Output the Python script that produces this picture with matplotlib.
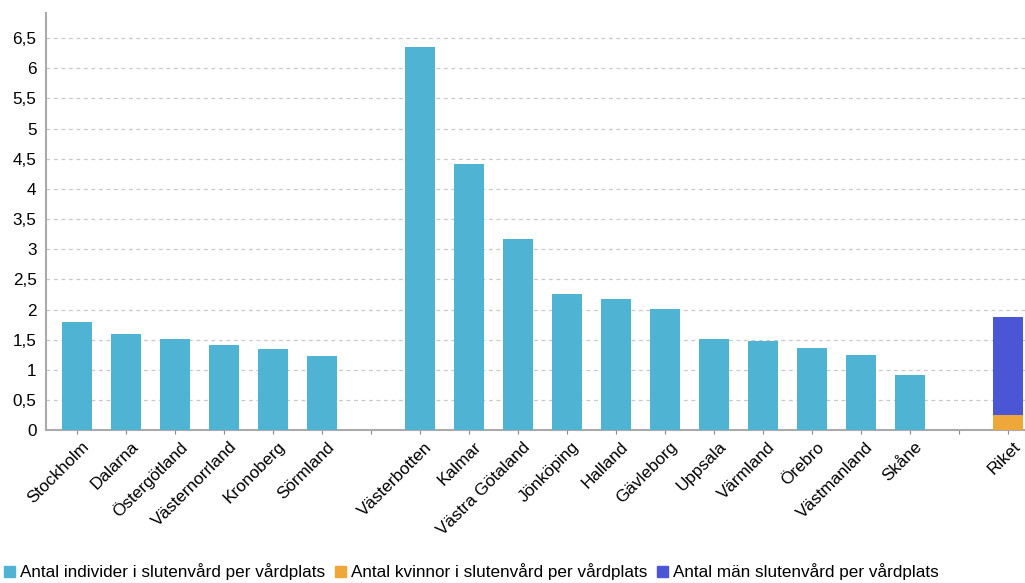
import numpy as np
import matplotlib.pyplot as plt
import matplotlib.transforms as mtransforms
from matplotlib.patches import Patch
from matplotlib.ticker import FuncFormatter

plt.rcParams['font.family'] = ['Liberation Sans', 'DejaVu Sans']

# regions, empty strings are spacer slots between the groups
labels = ['Stockholm', 'Dalarna', 'Östergötland', 'Västernorrland', 'Kronoberg', 'Sörmland', '',
          'Västerbotten', 'Kalmar', 'Västra Götaland', 'Jönköping', 'Halland', 'Gävleborg',
          'Uppsala', 'Värmland', 'Örebro', 'Västmanland', 'Skåne', '', 'Riket']
individer = [1.79, 1.59, 1.51, 1.41, 1.34, 1.23, 0,
             6.36, 4.41, 3.17, 2.26, 2.17, 2.01,
             1.51, 1.48, 1.36, 1.24, 0.91, 0, 0]
kvinnor = [0] * 19 + [0.25]
man = [0] * 19 + [1.62]

c_ind = '#4fb3d3'
c_kv = '#efa73a'
c_man = '#4b56d5'

fig = plt.figure(figsize=(10.25, 5.83), dpi=100)
ax = fig.add_axes([0.045, 0.262, 0.955, 0.716])

x = np.arange(len(labels))
w = 0.61
ax.bar(x, individer, w, color=c_ind, zorder=3)
ax.bar(x, kvinnor, w, color=c_kv, zorder=3)
ax.bar(x, man, w, bottom=kvinnor, color=c_man, zorder=3)

ax.set_xlim(-0.63, 19.35)
ax.set_ylim(0, 6.92)
ax.set_yticks(np.arange(0, 6.51, 0.5))
ax.yaxis.set_major_formatter(FuncFormatter(lambda v, p: ('%g' % v).replace('.', ',')))
ax.grid(axis='y', color='#c8c8c8', linestyle=(0, (3, 3)), linewidth=0.9, zorder=0)

ax.set_xticks(x)
ax.set_xticklabels(labels, rotation=45, ha='right', va='center', rotation_mode='anchor')
ax.tick_params(axis='x', length=3, color='#888888', labelsize=12.3, pad=8)
ax.tick_params(axis='y', length=0, labelsize=12.3, pad=7)
# nudge the slanted labels so they end just right of their tick
shift = mtransforms.ScaledTranslation(10 / 100, 1 / 100, fig.dpi_scale_trans)
for t in ax.get_xticklabels():
    t.set_transform(t.get_transform() + shift)

for s in ['top', 'right']:
    ax.spines[s].set_visible(False)
for s in ['left', 'bottom']:
    ax.spines[s].set_color('#aaaaaa')
    ax.spines[s].set_linewidth(1.5)

handles = [Patch(color=c_ind, label='Antal individer i slutenvård per vårdplats'),
           Patch(color=c_kv, label='Antal kvinnor i slutenvård per vårdplats'),
           Patch(color=c_man, label='Antal män slutenvård per vårdplats')]
fig.legend(handles=handles, loc='lower left', bbox_to_anchor=(-0.011, -0.022), ncol=3,
           frameon=False, fontsize=12.3, handlelength=0.65, handleheight=0.65,
           handletextpad=0.3, columnspacing=0.55)

fig.savefig('out.png', dpi=100)
